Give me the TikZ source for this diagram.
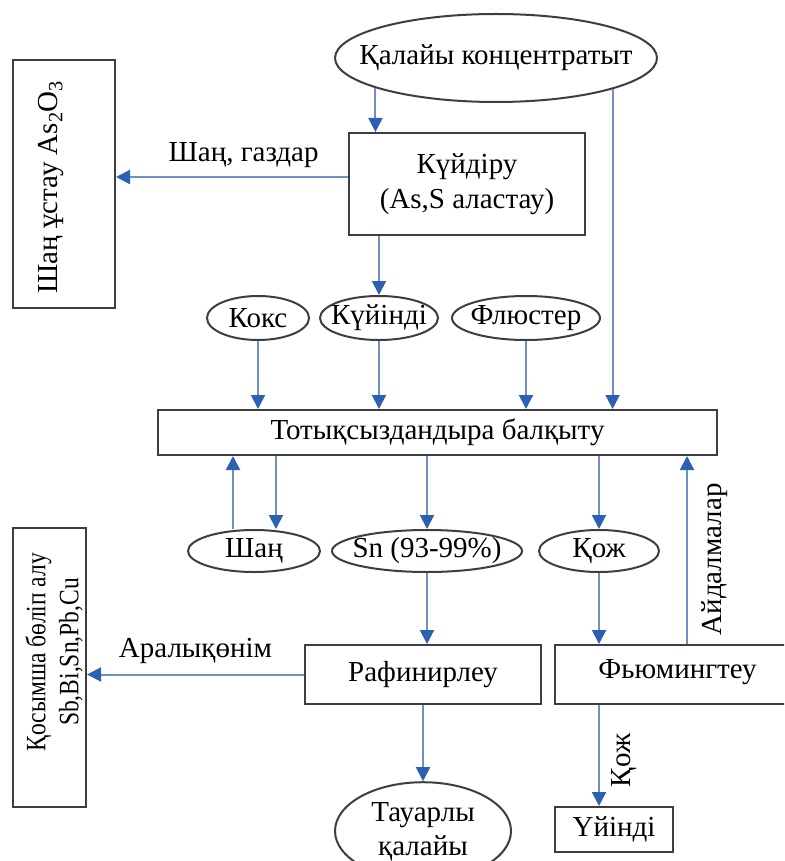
\documentclass[tikz,border=0pt]{standalone}
\usepackage{fontspec}
\setmainfont{Liberation Serif}
\usetikzlibrary{arrows.meta,shapes.geometric,calc}

\definecolor{flowline}{RGB}{112,144,196}
\definecolor{flowtip}{RGB}{44,96,176}
\definecolor{frame}{RGB}{62,62,62}

% zero-width text so an ellipse takes exactly its given size
\newcommand{\zw}[1]{\makebox[0pt]{#1}}
% horizontally condensed line
\newcommand{\narrow}[1]{\scalebox{0.84}[1]{#1}}

\begin{document}
\begin{tikzpicture}[x=1pt,y=-1pt,
  every node/.style={font=\fontsize{29}{35}\selectfont},
  box/.style={draw=frame, line width=2pt, rectangle, inner sep=0pt},
  oval/.style={draw=frame, line width=2pt, ellipse, inner sep=0pt},
  flow/.style={draw=flowline, line width=2pt,
    -{Triangle[length=14pt,width=14pt,color=flowtip]}},
  lbl/.style={inner sep=0pt}
]
\useasboundingbox (0,0) rectangle (784,861);
\fill[white] (0,0) rectangle (784,861);
\clip (0,0) rectangle (784,861);

% ---- nodes ----
\node[oval, minimum width=322, minimum height=88] (conc) at (496,58) {\zw{Қалайы концентратыт}};
\node[box, minimum width=102, minimum height=248] (dust) at (64,184) {};
\node[lbl, rotate=90] (dusttxt) at (51,187) {Шаң ұстау As\textsubscript{2}O\textsubscript{3}};
\node[box, minimum width=236, minimum height=102, align=center] (kuy) at (467,184) {Күйдіру\\(As,S аластау)};

\node[oval, minimum width=102, minimum height=44] (koks) at (258,318) {\zw{Кокс}};
\node[oval, minimum width=118, minimum height=44] (calc) at (379,318) {\zw{Күйінді}};
\node[oval, minimum width=148, minimum height=44] (flux) at (526,318) {\zw{Флюстер}};

\node[box, minimum width=559, minimum height=45] (smelt) at (437.5,432.5) {Тотықсыздандыра балқыту};

\node[oval, minimum width=132, minimum height=42] (shan) at (254,551) {\zw{Шаң}};
\node[oval, minimum width=190, minimum height=42] (sn) at (427,551) {\zw{Sn (93-99\%)}};
\node[oval, minimum width=120, minimum height=42] (kozh) at (599,551) {\zw{Қож}};

\node[box, minimum width=73, minimum height=279] (byprod) at (49.5,667.5) {};
\node[lbl, rotate=90, align=center, font=\fontsize{28}{33}\selectfont] (byprodtxt) at (54,652)
  {\narrow{Қосымша бөліп алу}\\\narrow{Sb,Bi,Sn,Pb,Cu}};

\node[box, minimum width=236, minimum height=59] (refin) at (423,674.5) {Рафинирлеу};
\node[box, minimum width=245, minimum height=59] (fum) at (677.5,674.5) {};
\node[lbl] (fumtxt) at (677.5,672) {Фьюмингтеу};

\node[oval, minimum width=176, minimum height=84] (tov) at (423,831) {\zw{\begin{tabular}{@{}c@{}}Тауарлы\\[-1pt]қалайы\end{tabular}}};
\node[box, minimum width=118, minimum height=45] (heap) at (614,829.5) {Үйінді};

% ---- connectors ----
\draw[flow] (conc.194) -- (conc.194 |- kuy.north);
\draw[flow] (conc.345.6) -- (conc.345.6 |- smelt.north);
\draw[flow] ([yshift=7pt]kuy.west) -- ([yshift=7pt]kuy.west -| dust.east)
  node[lbl, pos=0.45, above=8pt] (gaslbl) {Шаң, газдар};
\draw[flow] (calc |- kuy.south) -- (calc.north);

\draw[flow] (koks.south) -- (koks.south |- smelt.north);
\draw[flow] (calc.south) -- (calc.south |- smelt.north);
\draw[flow] (flux.south) -- (flux.south |- smelt.north);

\coordinate (shanup) at ([xshift=-21pt]shan.north);
\coordinate (shandn) at ([xshift=22pt]shan.north);
\draw[flow] (shanup) -- (shanup |- smelt.south);
\draw[flow] (shandn |- smelt.south) -- (shandn);
\draw[flow] (sn |- smelt.south) -- (sn.north);
\draw[flow] (kozh |- smelt.south) -- (kozh.north);

\draw[flow] (sn.south) -- (sn.south |- refin.north);
\draw[flow] (kozh.south) -- (kozh.south |- fum.north);

\coordinate (fumout) at (687,0);
\draw[flow] (fumout |- fum.north) -- (fumout |- smelt.south)
  node[lbl, rotate=90, pos=0.45, below=14pt] (recyc) {Айдалмалар};

\draw[flow] (refin.west) -- (refin.west -| byprod.east)
  node[lbl, pos=0.5, above=10pt] (midlbl) {Аралықөнім};

\draw[flow] (refin.south) -- (tov.north);
\draw[flow] (kozh.south |- fum.south) -- (kozh.south |- heap.north)
  node[lbl, rotate=90, pos=0.55, below=12pt] (slaglbl) {Қож};
\end{tikzpicture}
\end{document}
